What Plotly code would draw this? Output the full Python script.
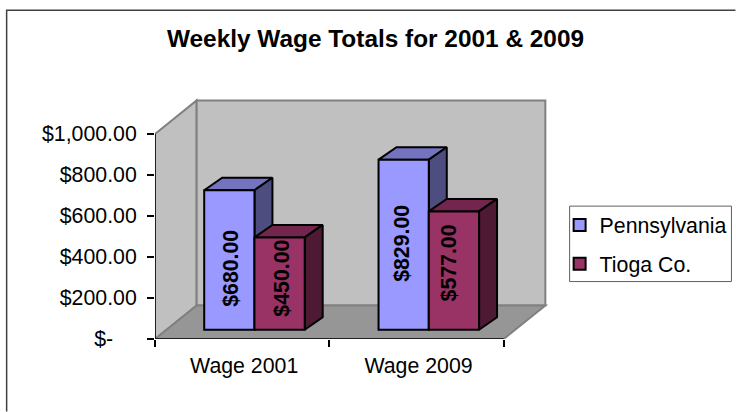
import plotly.graph_objects as go

# ---- data ----
categories = ["Wage 2001", "Wage 2009"]
pennsylvania = [680, 829]
tioga = [450, 577]
series_names = ["Pennsylvania", "Tioga Co."]
y_ticks = [0, 200, 400, 600, 800, 1000]
y_tick_labels = ["$-\u00a0\u00a0\u00a0\u00a0", "$200.00", "$400.00", "$600.00", "$800.00", "$1,000.00"]
title_text = "Weekly Wage Totals for 2001 & 2009"

# ---- layout geometry (pixels) ----
W, H = 736, 412
AX_L, AX_B = 155.0, 339.5
PX_X, PX_Y = 174.5, 0.2053        # pixels per category, pixels per dollar
X_MAX, Y_MAX = 2.26, 1180.0
WALL_DX, WALL_DY = 41.7 / PX_X, 33.5 / PX_Y
BAR_DX, BAR_DY = 18.0 / PX_X, 12.5 / PX_Y
BASE_X, BASE_Y = 12.3 / PX_X, 9.3 / PX_Y
BAR_W = 50.3 / PX_X

PLOT_W = X_MAX * PX_X
PLOT_H = Y_MAX * PX_Y
M_L, M_B = AX_L, H - AX_B
M_R, M_T = W - AX_L - PLOT_W, AX_B - PLOT_H

FONT = "Liberation Sans, Arial, sans-serif"
FS = 21.3
STROKE = 2


def px(x):
    return (x - AX_L) / PLOT_W


def py(y):
    return (AX_B - y) / PLOT_H


COLORS = {
    "Pennsylvania": dict(front="#9999FF", top="#7373BF", side="#4D4D80"),
    "Tioga Co.": dict(front="#993366", top="#73264D", side="#4D1933"),
}

fig = go.Figure()


def face(xs, ys, color):
    fig.add_trace(go.Scatter(
        x=xs, y=ys, mode="lines", fill="toself", fillcolor=color,
        line=dict(color="black", width=STROKE), showlegend=False, hoverinfo="skip",
        xaxis="x", yaxis="y"))


groups = [(series_names[0], pennsylvania, -1), (series_names[1], tioga, 0)]

# depth faces (top and side of every bar)
for i in range(len(categories)):
    for name, vals, off in groups:
        left = i + 0.5 + BASE_X + off * BAR_W
        right = left + BAR_W
        top = BASE_Y + vals[i]
        c = COLORS[name]
        face([left, right, right + BAR_DX, left + BAR_DX, left],
             [top, top, top + BAR_DY, top + BAR_DY, top], c["top"])
        face([right, right + BAR_DX, right + BAR_DX, right, right],
             [BASE_Y, BASE_Y + BAR_DY, top + BAR_DY, top, BASE_Y], c["side"])

# axis lines
fig.add_trace(go.Scatter(x=[0, 0], y=[0, y_ticks[-1]], mode="lines", cliponaxis=False,
                         line=dict(color="black", width=1.5), showlegend=False,
                         hoverinfo="skip"))
fig.add_trace(go.Scatter(x=[0, len(categories)], y=[0, 0], mode="lines", cliponaxis=False,
                         line=dict(color="black", width=1.5), showlegend=False,
                         hoverinfo="skip"))

# front faces: real bars on an overlaid subplot so they sit above the depth faces
for (name, vals, off), grp in zip(groups, "ab"):
    fig.add_trace(go.Bar(
        name=name, legendgroup=grp,
        x=[i + 0.5 + BASE_X for i in range(len(categories))],
        y=vals, base=[BASE_Y] * len(vals), width=BAR_W, offset=off * BAR_W,
        marker=dict(color=COLORS[name]["front"], line=dict(color="black", width=STROKE)),
        xaxis="x2", yaxis="y2", hoverinfo="skip"))

# walls and floor
top_v = y_ticks[-1]
n = len(categories)
wall_line = dict(color="#808080", width=2)
shapes = [
    dict(type="path", xref="x", yref="y", layer="below", line=wall_line, fillcolor="#C0C0C0",
         path=f"M0,0 L{WALL_DX},{WALL_DY} L{WALL_DX},{top_v + WALL_DY} L0,{top_v} Z"),
    dict(type="rect", xref="x", yref="y", layer="below", line=wall_line, fillcolor="#C0C0C0",
         x0=WALL_DX, x1=n + WALL_DX, y0=WALL_DY, y1=top_v + WALL_DY),
    dict(type="path", xref="x", yref="y", layer="below", line=wall_line, fillcolor="#969696",
         path=f"M0,0 L{n},0 L{n + WALL_DX},{WALL_DY} L{WALL_DX},{WALL_DY} Z"),
    # outer frame, open on the sides that run off the picture
    dict(type="path", xref="paper", yref="paper", line=dict(color="#404040", width=1.5),
         path=f"M{px(6.5)},{py(412)} L{px(6.5)},{py(10.5)} L{px(736)},{py(10.5)}"),
    # legend box
    dict(type="rect", xref="paper", yref="paper", line=dict(color="#606060", width=1),
         x0=px(570), x1=px(732), y0=py(282), y1=py(206.5), layer="below"),
]

# data labels: pixel nudge of each label against its bar centre
label_dy = {(0, 0): -8.5, (0, 1): 5.5, (1, 0): 1.5, (1, 1): 8.0}
label_dx = {(0, 0): 2, (0, 1): 2, (1, 0): -1, (1, 1): -5}
annotations = []
for i in range(n):
    for j, (name, vals, off) in enumerate(groups):
        annotations.append(dict(
            x=i + 0.5 + BASE_X + (off + 0.5) * BAR_W, y=BASE_Y + vals[i] / 2,
            xref="x", yref="y", text=f"<b>${vals[i]:,.2f}</b>", textangle=-90,
            showarrow=False, yshift=label_dy[(i, j)], xshift=label_dx[(i, j)],
            font=dict(family=FONT, size=FS, color="black")))

fig.update_layout(
    width=W, height=H, margin=dict(l=M_L, r=M_R, t=M_T, b=M_B, autoexpand=False),
    paper_bgcolor="white", plot_bgcolor="white", barmode="overlay",
    font=dict(family=FONT, size=FS, color="black"),
    title=dict(text=f"<b>{title_text}</b>", x=375.5 / W, xanchor="center",
               y=1 - 38 / H, yanchor="middle", font=dict(family=FONT, size=24.4)),
    xaxis=dict(range=[0, X_MAX], tickvals=[i + 0.5115 for i in range(n)], ticktext=categories,
               ticks="", showgrid=False, zeroline=False, showline=False,
               ticklabelstandoff=12,
               minor=dict(tickvals=list(range(n + 1)), ticks="outside", ticklen=7,
                          tickcolor="black", tickwidth=1.5, showgrid=False)),
    yaxis=dict(range=[0, Y_MAX], tickvals=y_ticks, ticktext=y_tick_labels, ticks="outside",
               ticklen=7, tickcolor="black", tickwidth=1.5, showgrid=False, zeroline=False,
               showline=False, ticklabelstandoff=6),
    xaxis2=dict(range=[0, X_MAX], overlaying="x", visible=False),
    yaxis2=dict(range=[0, Y_MAX], overlaying="y", visible=False),
    showlegend=True,
    legend=dict(x=px(564), y=py(205), xanchor="left", yanchor="top", bgcolor="rgba(0,0,0,0)",
                traceorder="grouped", tracegroupgap=8, indentation=-4,
                font=dict(family=FONT, size=FS)),
    shapes=shapes, annotations=annotations,
)

fig.write_html("out.html", post_script="document.body.style.margin='0';",
               config={"displayModeBar": False})
